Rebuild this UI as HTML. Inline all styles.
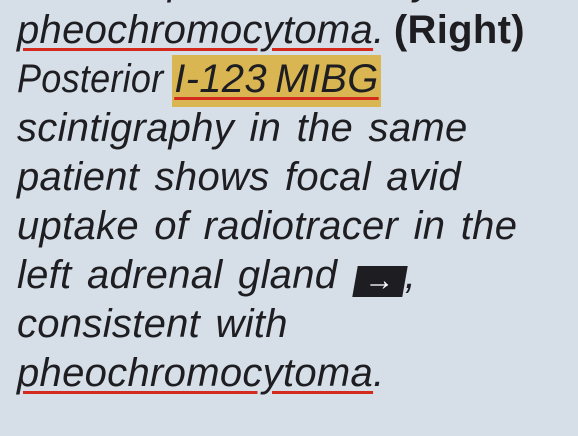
<!DOCTYPE html>
<html><head><meta charset="utf-8"><style>
html,body{margin:0;padding:0;width:578px;height:436px;overflow:hidden;background:#d6dfe7;}
#txt{position:absolute;left:17px;top:-43px;font-family:"Liberation Sans",sans-serif;font-style:italic;font-size:40px;line-height:49px;color:#1e1e22;white-space:nowrap;letter-spacing:0.3px;word-spacing:4px;}
.u{text-decoration:underline;text-decoration-color:#d42a1e;text-decoration-thickness:3px;text-underline-offset:5px;}
.post{display:inline-block;transform:scaleX(0.9);transform-origin:left center;margin-right:-16px;}
.hl{background:#d9b652;padding:2px 2px 6px 2px;margin-left:-7px;word-spacing:-3px;}
b{font-style:normal;font-weight:bold;word-spacing:-3px;margin-left:-6px;}
.arr{display:inline-block;background:#1e1e22;color:#fff;font-style:normal;width:50px;height:31px;line-height:29px;text-align:center;font-size:30px;vertical-align:-2px;transform:skewX(-10deg);margin-left:2px;}
</style></head><body>
<div id="txt">
<div>adrenal pheochromocytoma</div>
<div><span class="u">pheochromocytoma</span>. <b>(Right)</b></div>
<div><span class="post">Posterior</span> <span class="hl u">I-123 MIBG</span></div>
<div>scintigraphy in the same</div>
<div>patient shows focal avid</div>
<div>uptake of radiotracer in the</div>
<div>left adrenal gland <span class="arr">→</span>,</div>
<div>consistent with</div>
<div><span class="u">pheochromocytoma</span>.</div>
</div>
</body></html>
